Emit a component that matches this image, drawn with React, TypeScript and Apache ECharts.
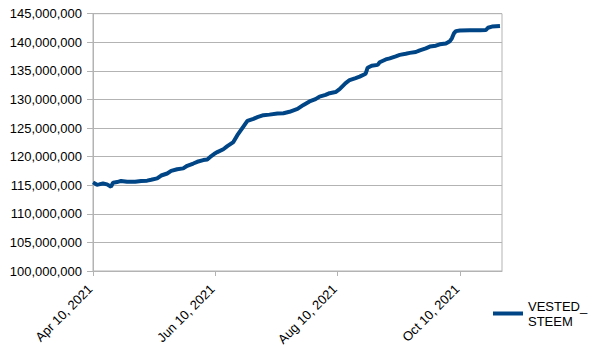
import React, { useEffect, useRef } from "react";
import * as echarts from "echarts";

const dates: string[] = [
  "2021-04-10", "2021-04-12", "2021-04-13", "2021-04-15", "2021-04-17", "2021-04-19", "2021-04-20",
  "2021-04-22", "2021-04-24", "2021-04-27", "2021-05-01", "2021-05-04", "2021-05-07", "2021-05-09",
  "2021-05-12", "2021-05-14", "2021-05-17", "2021-05-19", "2021-05-22", "2021-05-25", "2021-05-27",
  "2021-05-30", "2021-06-01", "2021-06-04", "2021-06-06", "2021-06-08", "2021-06-10", "2021-06-11",
  "2021-06-14", "2021-06-16", "2021-06-19", "2021-06-21", "2021-06-24", "2021-06-26", "2021-06-29",
  "2021-07-01", "2021-07-04", "2021-07-07", "2021-07-11", "2021-07-14", "2021-07-17", "2021-07-21",
  "2021-07-24", "2021-07-27", "2021-07-30", "2021-08-01", "2021-08-04", "2021-08-06", "2021-08-09",
  "2021-08-11", "2021-08-14", "2021-08-16", "2021-08-19", "2021-08-21", "2021-08-24", "2021-08-25",
  "2021-08-27", "2021-08-30", "2021-08-31", "2021-09-03", "2021-09-05", "2021-09-08", "2021-09-10",
  "2021-09-13", "2021-09-15", "2021-09-18", "2021-09-20", "2021-09-23", "2021-09-25", "2021-09-28",
  "2021-09-30", "2021-10-03", "2021-10-05", "2021-10-06", "2021-10-07", "2021-10-08", "2021-10-10",
  "2021-10-15", "2021-10-20", "2021-10-23", "2021-10-24", "2021-10-26", "2021-10-30",
];

const vestedSteem: number[] = [
  115500000, 115100000, 115150000, 115300000, 115150000, 114750000, 115450000,
  115550000, 115750000, 115600000, 115600000, 115750000, 115800000, 115950000,
  116200000, 116700000, 117050000, 117500000, 117800000, 117950000, 118400000,
  118800000, 119100000, 119400000, 119500000, 120100000, 120600000, 120800000,
  121300000, 121850000, 122550000, 123750000, 125250000, 126250000, 126600000,
  126900000, 127250000, 127350000, 127550000, 127600000, 127850000, 128350000,
  129050000, 129650000, 130050000, 130500000, 130800000, 131100000, 131300000,
  131800000, 132850000, 133400000, 133750000, 134000000, 134500000, 135550000,
  135900000, 136050000, 136500000, 137000000, 137200000, 137550000, 137800000,
  138000000, 138150000, 138300000, 138600000, 138950000, 139250000, 139400000,
  139650000, 139800000, 140200000, 140700000, 141550000, 141950000, 142050000,
  142100000, 142100000, 142150000, 142550000, 142750000, 142850000,
];

const seriesName = "VESTED_STEEM";
const startDate = "2021-04-10";
const endDate = "2021-10-31";
const tickDays = 61;
const yMin = 100000000;
const yMax = 145000000;
const yStep = 5000000;

const DAY = 86400000;
const toUtc = (s: string) => {
  const [y, m, d] = s.split("-").map(Number);
  return Date.UTC(y, m - 1, d);
};
const MONTHS = ["Jan", "Feb", "Mar", "Apr", "May", "Jun", "Jul", "Aug", "Sep", "Oct", "Nov", "Dec"];

export default function App() {
  const ref = useRef<HTMLDivElement>(null);
  useEffect(() => {
    if (!ref.current) return;
    const chart = echarts.init(ref.current, undefined, { renderer: "svg" });
    const t0 = toUtc(startDate);
    const span = Math.round((toUtc(endDate) - t0) / DAY);
    const data = dates.map((d, i) => [(toUtc(d) - t0) / DAY, vestedSteem[i]]);
    const font = "'Liberation Sans', Arial, sans-serif";
    chart.setOption({
      animation: false,
      backgroundColor: "#fff",
      grid: {
        left: 93,
        right: 102,
        top: 13.7,
        bottom: 83,
        show: true,
        borderColor: "#b3b3b3",
        borderWidth: 1,
      },
      legend: {
        show: true,
        left: 493,
        top: 291,
        padding: 0,
        itemWidth: 30,
        itemHeight: 4,
        icon: "rect",
        data: [seriesName],
        formatter: () => "VESTED_\nSTEEM",
        textStyle: {
          fontFamily: font,
          fontSize: 13,
          color: "#000",
          lineHeight: 15,
          padding: [15, 0, 0, 0],
        },
      },
      xAxis: {
        type: "value",
        min: 0,
        max: span,
        interval: tickDays,
        splitLine: { show: false },
        axisLine: { show: true, lineStyle: { color: "#b3b3b3" } },
        axisTick: { show: true, length: 5, lineStyle: { color: "#b3b3b3" } },
        axisLabel: {
          rotate: 45,
          margin: 13,
          padding: [0, 4, 0, 0],
          fontFamily: font,
          fontSize: 13,
          color: "#000",
          showMaxLabel: false,
          formatter: (v: number) => {
            const d = new Date(t0 + v * DAY);
            return `${MONTHS[d.getUTCMonth()]} ${d.getUTCDate()}, ${d.getUTCFullYear()}`;
          },
        },
      },
      yAxis: {
        type: "value",
        min: yMin,
        max: yMax,
        interval: yStep,
        axisLine: { show: true, lineStyle: { color: "#b3b3b3" } },
        axisTick: { show: true, length: 6, lineStyle: { color: "#b3b3b3" } },
        splitLine: { show: true, lineStyle: { color: "#b3b3b3" } },
        axisLabel: {
          margin: 11,
          fontFamily: font,
          fontSize: 13,
          color: "#000",
          formatter: (v: number) => v.toLocaleString("en-US"),
        },
      },
      series: [
        {
          name: seriesName,
          type: "line",
          data,
          showSymbol: false,
          symbol: "none",
          lineStyle: { color: "#004586", width: 4 },
          itemStyle: { color: "#004586" },
        },
      ],
    });
    return () => chart.dispose();
  }, []);
  return <div ref={ref} style={{ width: 604, height: 354, position: "absolute", left: 0, top: 0 }} />;
}
